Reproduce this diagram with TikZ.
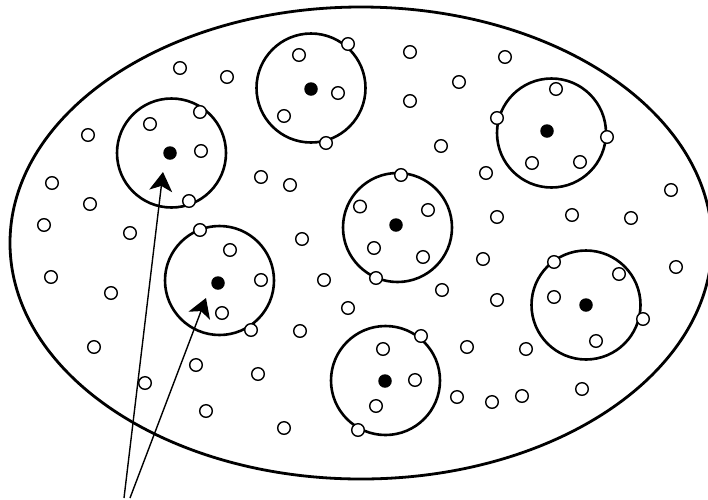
\documentclass[tikz,border=0pt]{standalone}
\usetikzlibrary{arrows.meta,shapes.geometric}
\tikzset{
  popline/.style={draw,ellipse,line width=2.8pt,minimum width=702pt,minimum height=472pt,inner sep=0pt},
  bigc/.style={draw,circle,line width=2.6pt,minimum size=109pt,inner sep=0pt},
  sc/.style={draw,circle,fill=white,line width=1.4pt,minimum size=12.6pt,inner sep=0pt},
  dotc/.style={circle,fill=black,minimum size=13.5pt,inner sep=0pt},
  arrowline/.style={line width=1.4pt,-{Stealth[length=19pt,width=23pt,inset=5pt]}}
}
\begin{document}
\begin{tikzpicture}[x=1pt,y=-1pt]
\path[fill=white,use as bounding box] (0,0) rectangle (708,499);
\node[popline] (pop) at (361,243) {};
% big circles
\node[bigc] (c1) at (171.5,153) {};
\node[bigc] (c2) at (311,88) {};
\node[bigc] (c3) at (551.5,133) {};
\node[bigc] (c4) at (397.5,227.5) {};
\node[bigc] (c5) at (219.5,280.5) {};
\node[bigc] (c6) at (586,305) {};
\node[bigc] (c7) at (385.5,380.5) {};
% black dots
\node[dotc] (d1) at (170,153) {};
\node[dotc] (d2) at (311,89) {};
\node[dotc] (d3) at (547,131) {};
\node[dotc] (d4) at (396,225) {};
\node[dotc] (d5) at (218,283) {};
\node[dotc] (d6) at (586,305) {};
\node[dotc] (d7) at (385,381) {};
% small open circles
\foreach \x/\y [count=\i] in {
 348/44, 299/55, 338/93, 284/116, 326/143, 180/68, 227/77, 200/112, 150/124, 201/151,
 189/201, 88/135, 52/183, 90/204, 44/225, 130/233, 261/177, 290/185, 200/230, 230/250,
 302/239, 360/206.5, 410/52, 505/57, 459/82, 410/101, 556/89, 497/118, 607/137, 532/163,
 580/162, 441/146, 486/173, 671/190, 401/175, 428/210, 497/217, 572/215, 631/218, 374/248,
 261/280, 324/280, 348/308, 222/313, 251/330, 300/331, 51/277, 111/293, 94/347, 196/365,
 258/374, 145/383, 206/411, 284/428, 358/430, 423/257, 376/278, 483/259, 442/290, 497/300,
 554/262, 619/274, 554/297, 643/319, 596/341, 676/267, 421/336, 383/349, 415/380, 376/406,
 457/397, 492/402, 522/396, 582/389, 467/347, 526/349}
 { \node[sc] (s\i) at (\x,\y) {}; }
% arrows
\coordinate (a1s) at (124,498);
\coordinate (a1t) at (163,172);
\coordinate (a2s) at (130,498);
\coordinate (a2t) at (206,298);
\draw[arrowline] (a1s) -- (a1t);
\draw[arrowline] (a2s) -- (a2t);
\end{tikzpicture}
\end{document}
